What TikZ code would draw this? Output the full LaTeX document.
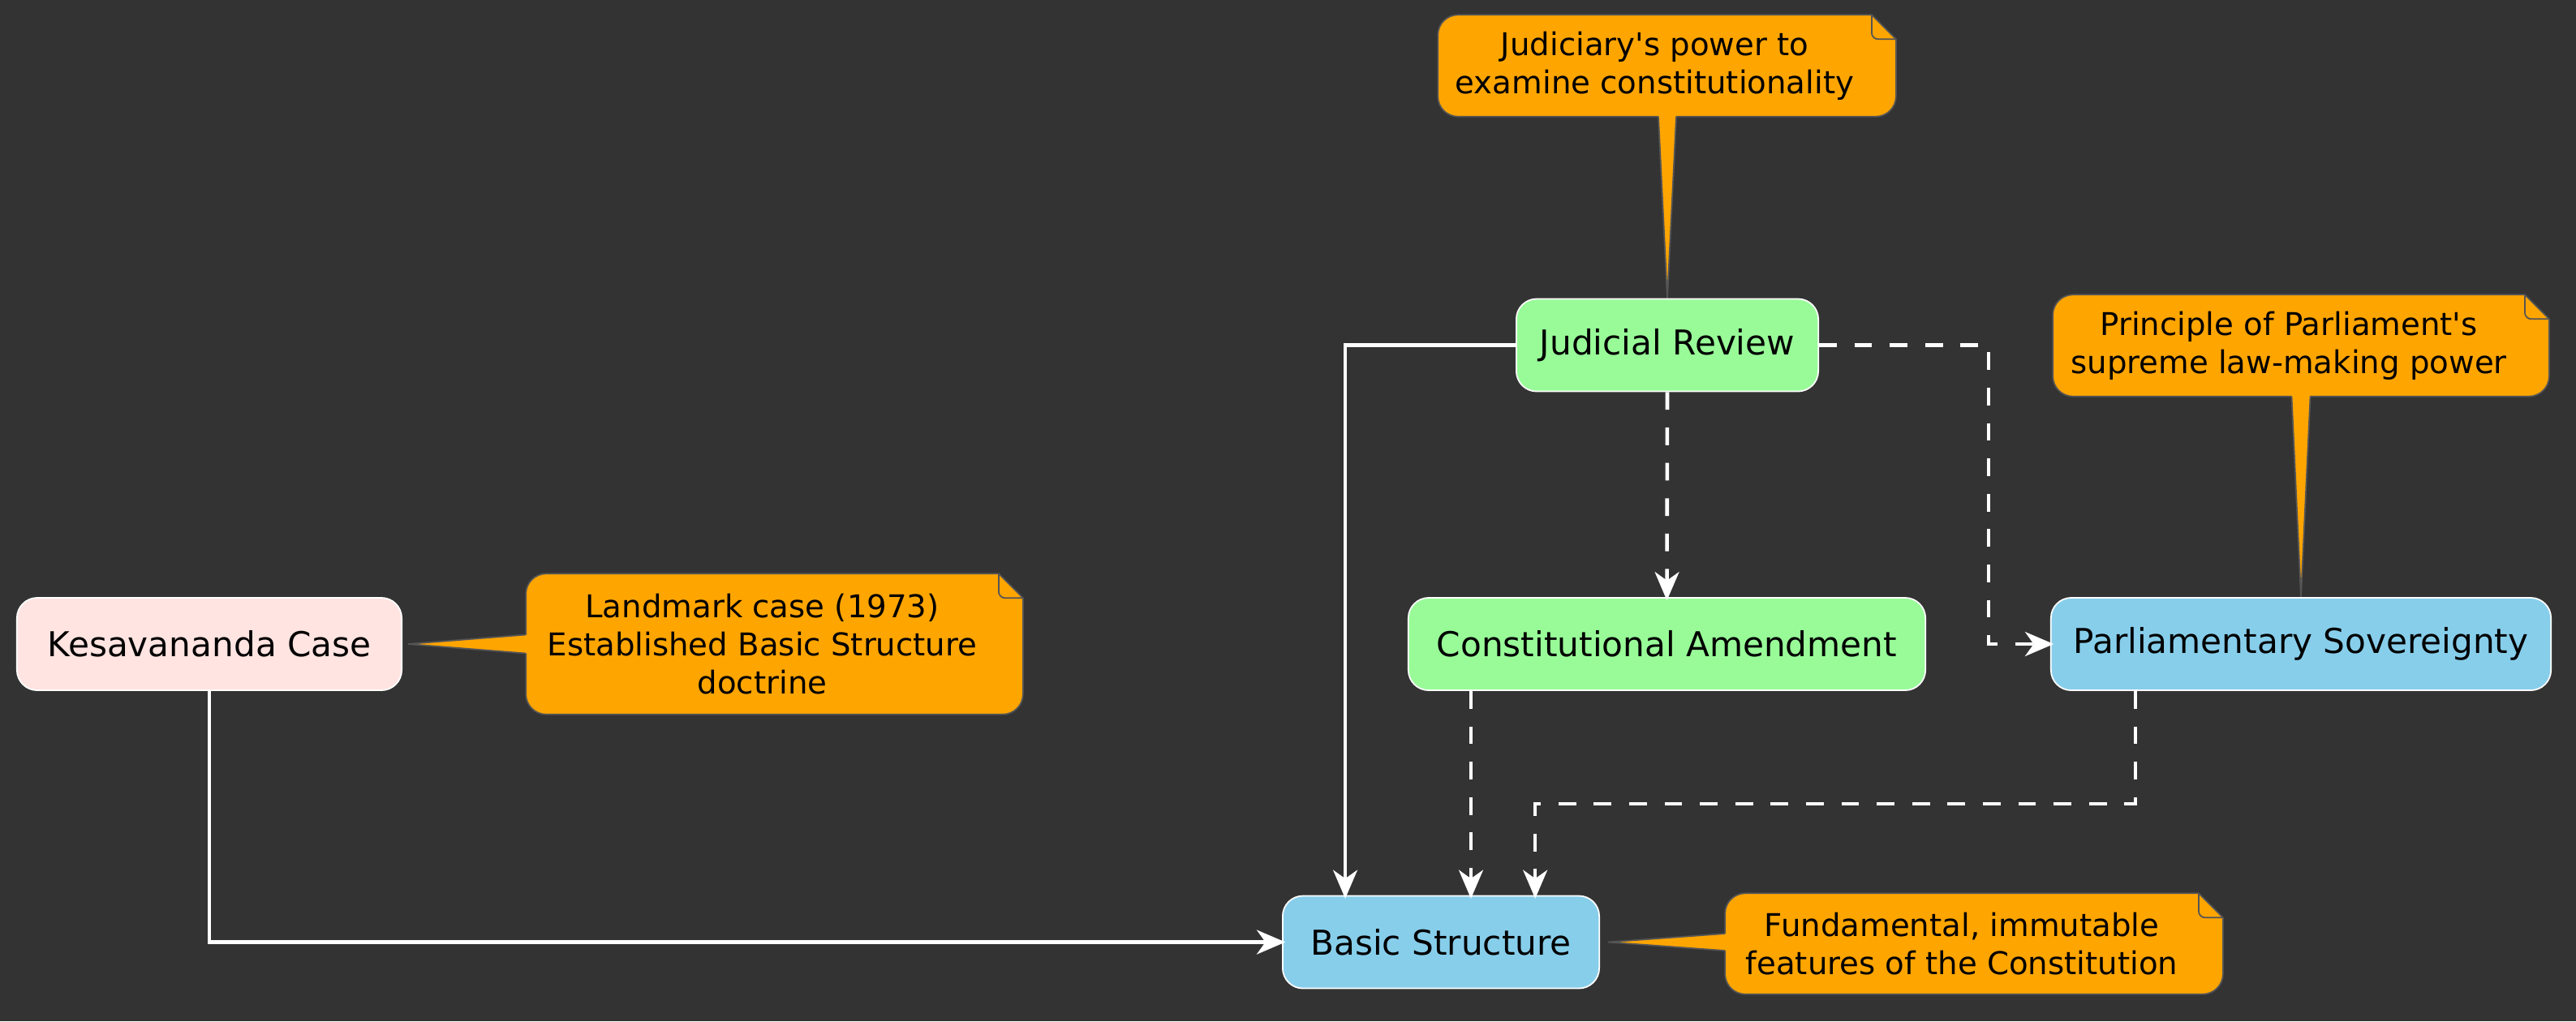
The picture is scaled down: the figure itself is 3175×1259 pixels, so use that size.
\documentclass[tikz,border=0pt]{standalone}
\usepackage{fontspec}
\setmainfont{DejaVu Sans}[Ligatures=TeXOff]
\usetikzlibrary{arrows.meta,calc}
\pgfdeclarelayer{background}
\pgfsetlayers{background,main}
\definecolor{bgc}{HTML}{333333}
\definecolor{pinkc}{HTML}{FFE4E1}
\definecolor{greenc}{HTML}{98FB98}
\definecolor{bluec}{HTML}{87CEEB}
\definecolor{noteorange}{HTML}{FFA500}
\definecolor{notegray}{HTML}{555555}
\newcommand\notebodypath[1]{%
  \path[notebody] ([xshift=.25cm]#1.north west) -- (#1.north east)
    -- ([shift={(.3cm,-.3cm)}]#1.north east)
    -- ([shift={(.3cm,.25cm)}]#1.south east) arc[start angle=0,end angle=-90,radius=.25cm]
    -- ([xshift=.25cm]#1.south west) arc[start angle=-90,end angle=-180,radius=.25cm]
    -- ([yshift=-.25cm]#1.north west) arc[start angle=180,end angle=90,radius=.25cm]
    -- cycle;
  \draw[draw=notegray, line width=0.5pt] (#1.north east) -- ([yshift=-.22cm]#1.north east)
    arc[start angle=180,end angle=270,radius=.08cm] -- ([shift={(.3cm,-.3cm)}]#1.north east);
}
\begin{document}
\begin{tikzpicture}[x=0.01cm,y=-0.01cm,
  box/.style={draw=white, line width=0.5pt, rounded corners=0.25cm, minimum height=1.14cm,
    inner sep=0pt, font=\fontsize{12}{14}\selectfont, text=black},
  notetext/.style={inner sep=0pt, font=\fontsize{11}{13.3}\selectfont, align=center, text=black},
  notebody/.style={fill=noteorange, draw=notegray, line width=0.5pt},
  tailline/.style={draw=notegray, line width=0.5pt},
  conn/.style={draw=white, line width=1.3pt, -{Stealth[length=10pt,width=8.5pt,inset=3pt]}, shorten >=-1.2pt},
  dconn/.style={conn, dash pattern=on 6.2pt off 6.2pt},
]
\begin{pgfonlayer}{background}
\fill[bgc] (0,0) rectangle (3175,1259);
\end{pgfonlayer}
\useasboundingbox (0,0) rectangle (3175,1259);

% main nodes
\node[box, fill=pinkc, minimum width=4.74cm] (kes) at (258,794) {Kesavananda Case};
\node[box, fill=greenc, minimum width=3.72cm] (jr) at (2055,425.5) {Judicial Review};
\node[box, fill=greenc, minimum width=6.37cm] (ca) at (2054.5,794) {Constitutional Amendment};
\node[box, fill=bluec, minimum width=6.16cm] (ps) at (2836,794) {Parliamentary Sovereignty};
\node[box, fill=bluec, minimum width=3.90cm] (bs) at (1776,1161.5) {Basic Structure};

% notes (text nodes span the note without its folded strip)
\node[notetext, minimum width=5.33cm, minimum height=1.24cm] (jrnote) at (2039.5,81) {Judiciary's power to\\examine constitutionality};
\node[notetext, minimum width=5.81cm, minimum height=1.72cm] (lmnote) at (939.5,794) {Landmark case (1973)\\Established Basic Structure\\doctrine};
\node[notetext, minimum width=5.80cm, minimum height=1.24cm] (pnote) at (2821,426) {Principle of Parliament's\\supreme law-making power};
\node[notetext, minimum width=5.82cm, minimum height=1.23cm] (fnote) at (2418,1163.5) {Fundamental, immutable\\features of the Constitution};

\begin{pgfonlayer}{background}
\notebodypath{jrnote}
\notebodypath{lmnote}
\notebodypath{pnote}
\notebodypath{fnote}

% tails
\coordinate (jt) at (jrnote.south -| jr.north);
\fill[noteorange] ([shift={(-0.11cm,0.03cm)}]jt) -- (jr.north) -- ([shift={(0.11cm,0.03cm)}]jt) -- cycle;
\draw[tailline] ([xshift=-0.11cm]jt) -- (jr.north) -- ([xshift=0.11cm]jt);

\coordinate (pt) at (pnote.south -| ps.north);
\fill[noteorange] ([shift={(-0.115cm,0.03cm)}]pt) -- (ps.north) -- ([shift={(0.115cm,0.03cm)}]pt) -- cycle;
\draw[tailline] ([xshift=-0.115cm]pt) -- (ps.north) -- ([xshift=0.115cm]pt);

\coordinate (lt) at (lmnote.west |- kes.east);
\coordinate (ltip) at ([xshift=0.07cm]kes.east);
\fill[noteorange] ([shift={(0.03cm,0.115cm)}]lt) -- (ltip) -- ([shift={(0.03cm,-0.115cm)}]lt) -- cycle;
\draw[tailline] ([yshift=0.115cm]lt) -- (ltip) -- ([yshift=-0.115cm]lt);

\coordinate (ft) at (fnote.west |- bs.east);
\coordinate (ftip) at ([xshift=0.1cm]bs.east);
\fill[noteorange] ([shift={(0.03cm,0.105cm)}]ft) -- (ftip) -- ([shift={(0.03cm,-0.105cm)}]ft) -- cycle;
\draw[tailline] ([yshift=0.105cm]ft) -- (ftip) -- ([yshift=-0.105cm]ft);
\end{pgfonlayer}

% connectors
\draw[conn] (kes.south) |- (bs.west);
\coordinate (bs1) at ([xshift=0.78cm]bs.north west);
\draw[conn] (jr.west) -| (bs1);
\draw[dconn] (jr.south) -- (ca.north);
\draw[dconn] (jr.east) -- ++(2.09cm,0) |- (ps.west);
\coordinate (ca1) at ([xshift=0.78cm]ca.south west);
\draw[dconn] (ca1) -- (ca1 |- bs.north);
\coordinate (ps1) at ([xshift=1.05cm]ps.south west);
\coordinate (bs2) at ([xshift=3.12cm]bs.north west);
\draw[dconn] (ps1) -- ++(0,-1.39cm) -| (bs2);
\end{tikzpicture}
\end{document}
